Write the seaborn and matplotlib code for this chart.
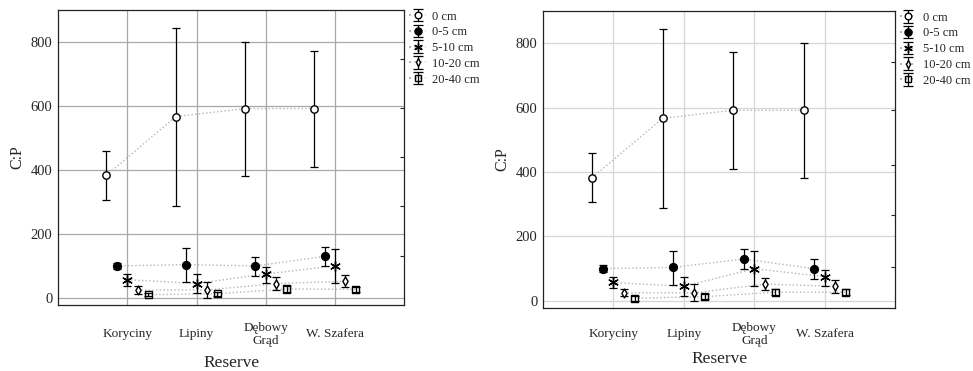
"""
C:P ratio by reserve and soil depth, two panels side by side.
"""

import numpy as np
import pandas as pd
import matplotlib
matplotlib.use("Agg")
import matplotlib.pyplot as plt
import seaborn as sns

# --- data -------------------------------------------------------------
reserves = ["Koryciny", "Lipiny", "Dębowy\nGrąd", "W. Szafera"]
depths = ["0 cm", "0-5 cm", "5-10 cm", "10-20 cm", "20-40 cm"]

# left panel
left_mean = [
    [383, 567, 592, 592],
    [100, 104, 100, 130],
    [57, 45, 75, 100],
    [25, 25, 45, 52],
    [10, 13, 28, 27],
]
left_lo = [
    [307, 288, 382, 410],
    [90, 50, 67, 99],
    [38, 14, 47, 47],
    [12, 0, 24, 33],
    [5, 7, 20, 19],
]
left_hi = [
    [458, 843, 800, 773],
    [110, 156, 129, 160],
    [74, 75, 97, 154],
    [38, 51, 65, 72],
    [15, 19, 36, 35],
]

# right panel
right_mean = [
    [383, 567, 592, 592],
    [100, 104, 130, 100],
    [57, 45, 100, 75],
    [25, 25, 52, 45],
    [8, 13, 27, 27],
]
right_lo = [
    [307, 288, 410, 382],
    [89, 50, 99, 67],
    [40, 14, 47, 47],
    [14, 0, 33, 24],
    [0, 5, 17, 17],
]
right_hi = [
    [458, 843, 773, 800],
    [111, 156, 160, 129],
    [73, 75, 154, 97],
    [38, 51, 72, 65],
    [16, 21, 37, 37],
]

yticks = [0, 200, 400, 600, 800]
right_spine_ticks_left = [132, 286, 439, 593, 746]
right_spine_ticks_right = [106, 266, 423, 592, 741]

# --- style ------------------------------------------------------------
offsets = [-0.3, -0.15, 0.0, 0.15, 0.3]
markers = ["o", "o", (6, 2, 0), "d", "s"]
mfaces = ["white", "black", "black", "white", "none"]
msizes = [28, 32, 48, 20, 26]   # scatter sizes (pt^2)

sns.set_style("white")
plt.rcParams["font.family"] = ["Liberation Serif", "DejaVu Serif"]


def draw_panel(ax, means, los, his, grid_color, spine_ticks, xpad, xlabpad):
    base = np.arange(len(reserves))
    for i, name in enumerate(depths):
        x = base + offsets[i]
        y = np.array(means[i], dtype=float)
        lo = y - np.array(los[i])
        hi = np.array(his[i]) - y
        df = pd.DataFrame({"x": x, "y": y})
        # connecting dotted line
        sns.lineplot(data=df, x="x", y="y", ax=ax, color="#b5b5b5",
                     linestyle=":", linewidth=1.0, zorder=2, legend=False)
        # error bars
        ax.errorbar(x, y, yerr=[lo, hi], fmt="none", ecolor="black",
                    elinewidth=0.9, capsize=3, capthick=0.9, zorder=3)
        # markers
        sns.scatterplot(data=df, x="x", y="y", ax=ax, marker=markers[i],
                        s=msizes[i], facecolor=mfaces[i], edgecolor="black",
                        linewidth=1.0, zorder=4, legend=False)
        # proxy for legend
        ax.errorbar([np.nan], [np.nan], yerr=[[np.nan], [np.nan]],
                    fmt=":", color="#b5b5b5", marker=markers[i],
                    markersize=np.sqrt(msizes[i]) * 0.9, mfc=mfaces[i],
                    mec="black", ecolor="black", elinewidth=0.9, capsize=3.5,
                    capthick=0.9, label=name)

    ax.set_xlim(-1, 4)
    ax.set_ylim(-22, 900)
    ax.set_xticks(base)
    ax.set_xticklabels(reserves, fontsize=9.5, linespacing=1.1)
    for lab in ax.get_xticklabels():
        lab.set_va("center")
    ax.set_yticks(yticks)
    ax.tick_params(axis="x", length=0, pad=xpad)
    ax.tick_params(axis="y", length=0, pad=4, labelsize=10.5)
    ax.grid(True, color=grid_color, linewidth=0.9)
    ax.set_axisbelow(True)
    for sp in ax.spines.values():
        sp.set_color("#222222")
        sp.set_linewidth(0.9)
    ax.set_xlabel("Reserve", fontsize=12.5, labelpad=xlabpad)
    ax.set_ylabel("C:P", fontsize=11.5, labelpad=4)

    tw = ax.twinx()
    tw.set_ylim(ax.get_ylim())
    tw.set_yticks(spine_ticks)
    tw.tick_params(axis="y", direction="in", length=3, width=0.8,
                   labelright=False)
    tw.grid(False)
    for sp in tw.spines.values():
        sp.set_visible(False)

    ax.legend(loc="upper left", bbox_to_anchor=(1.0, 1.015), frameon=False,
              fontsize=9, handlelength=1.3, handletextpad=0.5,
              labelspacing=0.3, borderaxespad=0.2, borderpad=0.2)


fig = plt.figure(figsize=(9.73, 3.71), dpi=100)
ax1 = fig.add_axes([0.0596, 0.178, 0.356, 0.795])
ax2 = fig.add_axes([0.558, 0.170, 0.362, 0.800])

draw_panel(ax1, left_mean, left_lo, left_hi, "#a8a8a8",
           right_spine_ticks_left, 21, 6)
draw_panel(ax2, right_mean, right_lo, right_hi, "#d6d6d6",
           right_spine_ticks_right, 19, 3)

fig.savefig("out.png", dpi=100)
